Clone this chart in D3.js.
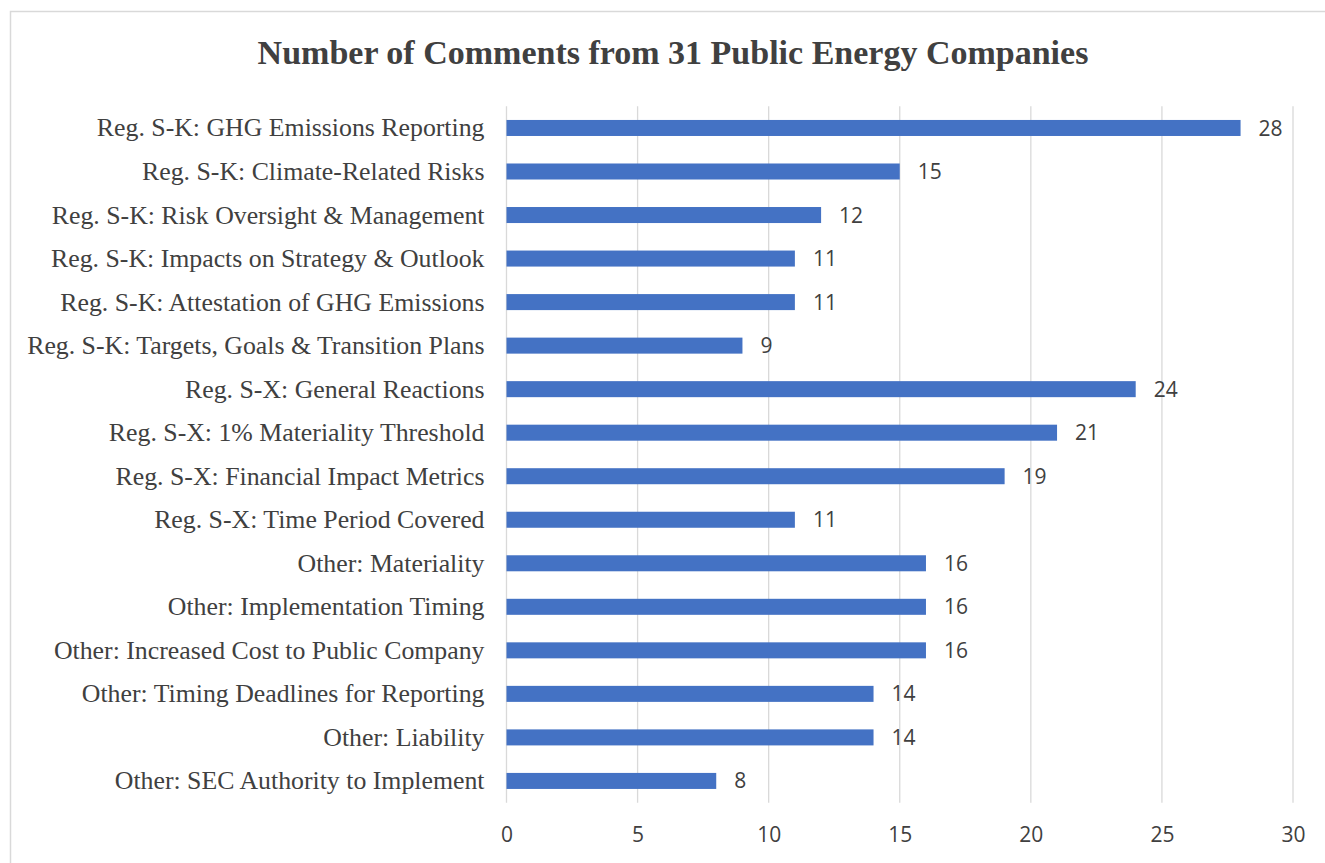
<!DOCTYPE html>
<html>
<head>
<meta charset="utf-8">
<script src="https://cdn.jsdelivr.net/npm/d3@7"></script>
<style>
  html, body { margin: 0; padding: 0; background: #ffffff; }
  svg { display: block; }
</style>
</head>
<body>
<svg id="chart" width="1325" height="863"></svg>
<script>
const titleText = "Number of Comments from 31 Public Energy Companies";
const categories = [
  "Reg. S-K: GHG Emissions Reporting",
  "Reg. S-K: Climate-Related Risks",
  "Reg. S-K: Risk Oversight & Management",
  "Reg. S-K: Impacts on Strategy & Outlook",
  "Reg. S-K: Attestation of GHG Emissions",
  "Reg. S-K: Targets, Goals & Transition Plans",
  "Reg. S-X: General Reactions",
  "Reg. S-X: 1% Materiality Threshold",
  "Reg. S-X: Financial Impact Metrics",
  "Reg. S-X: Time Period Covered",
  "Other: Materiality",
  "Other: Implementation Timing",
  "Other: Increased Cost to Public Company",
  "Other: Timing Deadlines for Reporting",
  "Other: Liability",
  "Other: SEC Authority to Implement"
];
const values = [28, 15, 12, 11, 11, 9, 24, 21, 19, 11, 16, 16, 16, 14, 14, 8];
const xTicks = [0, 5, 10, 15, 20, 25, 30];

const svg = d3.select("#chart");

// outer chart border
svg.append("rect")
  .attr("x", 10.5).attr("y", 11.5)
  .attr("width", 1340).attr("height", 900)
  .attr("fill", "#ffffff")
  .attr("stroke", "#d9d9d9").attr("stroke-width", 1.5);

const x = d3.scaleLinear().domain([0, 30]).range([506.5, 1293]);
const y = d3.scaleBand().domain(categories).range([106.2, 802.7])
  .paddingInner(0.632).paddingOuter(0.316);

// gridlines
svg.append("g")
  .selectAll("line").data(xTicks).join("line")
  .attr("x1", d => x(d)).attr("x2", d => x(d))
  .attr("y1", y.range()[0]).attr("y2", y.range()[1])
  .attr("stroke", "#d9d9d9").attr("stroke-width", 1.3);

// bars
svg.append("g")
  .selectAll("rect").data(values).join("rect")
  .attr("x", x(0))
  .attr("y", (d, i) => y(categories[i]))
  .attr("width", d => x(d) - x(0))
  .attr("height", y.bandwidth())
  .attr("fill", "#4472c4");

// value labels
svg.append("g")
  .selectAll("text").data(values).join("text")
  .attr("x", d => x(d) + 18)
  .attr("y", (d, i) => y(categories[i]) + y.bandwidth() / 2)
  .attr("dy", "0.36em")
  .attr("font-family", "'Open Sans', sans-serif")
  .attr("font-size", 21)
  .attr("fill", "#404040")
  .text(d => d);

// category labels
svg.append("g")
  .selectAll("text").data(categories).join("text")
  .attr("x", x(0) - 22)
  .attr("y", d => y(d) + y.bandwidth() / 2)
  .attr("dy", "0.33em")
  .attr("text-anchor", "end")
  .attr("font-family", "'Liberation Serif', 'Times New Roman', serif")
  .attr("font-size", 25.8)
  .attr("fill", "#404040")
  .text(d => d);

// x axis tick labels
const xAxis = d3.axisBottom(x).tickValues(xTicks).tickSize(0).tickPadding(0);
const gx = svg.append("g").attr("transform", "translate(0, 842)").call(xAxis);
gx.select(".domain").remove();
gx.selectAll("text")
  .attr("dy", 0).attr("y", 0)
  .attr("font-family", "'Open Sans', sans-serif")
  .attr("font-size", 21)
  .attr("fill", "#404040");

// title
svg.append("text")
  .attr("x", 673).attr("y", 64)
  .attr("text-anchor", "middle")
  .attr("font-family", "'Liberation Serif', 'Times New Roman', serif")
  .attr("font-weight", "bold")
  .attr("font-size", 34)
  .attr("fill", "#404040")
  .text(titleText);
</script>
</body>
</html>
